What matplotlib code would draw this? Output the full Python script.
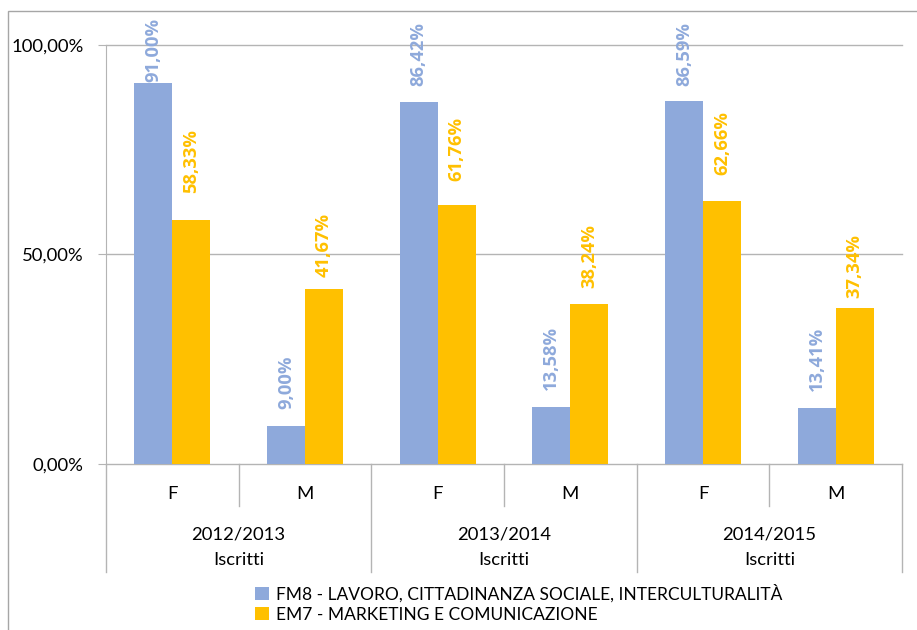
import numpy as np
import matplotlib.pyplot as plt
from matplotlib.lines import Line2D
from matplotlib.transforms import blended_transform_factory

plt.rcParams['font.family'] = ['Lato', 'DejaVu Sans']

# dati
sottocategorie = ['F', 'M', 'F', 'M', 'F', 'M']
anni = ['2012/2013', '2013/2014', '2014/2015']
gruppo = 'Iscritti'
fm8 = [91.00, 9.00, 86.42, 13.58, 86.59, 13.41]
em7 = [58.33, 41.67, 61.76, 38.24, 62.66, 37.34]
serie_nomi = ['FM8 - LAVORO, CITTADINANZA SOCIALE, INTERCULTURALITÀ',
              'EM7 - MARKETING E COMUNICAZIONE']
colori = ['#8EA9DB', '#FFC000']
yticks = [0, 50, 100]
ytick_labels = ['0,00%', '50,00%', '100,00%']
# distanza (px) tra cima della barra e etichetta, come nel grafico originale
gap_fm8 = [1, 17, 16, 17, 15, 17]
gap_em7 = [27, 12, 24, 16, 26, 10]

W, H = 917, 630
fig = plt.figure(figsize=(W / 100, H / 100), dpi=100)
grigio = '#B4B4B4'

# cornice esterna del grafico
fig.add_artist(plt.Rectangle((8 / W, -0.01), 1.02 - 8 / W, 1 - 11 / H + 0.01,
                             transform=fig.transFigure, fill=False,
                             edgecolor='#A6A6A6', linewidth=1.0))

ax = fig.add_axes([106 / W, 1 - 464 / H, (902 - 106) / W, (464 - 45) / H])
x = np.arange(len(sottocategorie))
bw = 0.286
b1 = ax.bar(x - bw / 2, fm8, bw, color=colori[0], label=serie_nomi[0], zorder=3)
b2 = ax.bar(x + bw / 2, em7, bw, color=colori[1], label=serie_nomi[1], zorder=3)

for bars, vals, gaps, c in [(b1, fm8, gap_fm8, colori[0]),
                            (b2, em7, gap_em7, colori[1])]:
    for b, v, g in zip(bars, vals, gaps):
        ax.annotate(('%.2f' % v).replace('.', ',') + '%',
                    (b.get_x() + b.get_width() / 2, v),
                    xytext=(0, g * 0.72), textcoords='offset points',
                    rotation=90, ha='center', va='bottom',
                    color=c, fontsize=13.2, fontweight='bold',
                    family=['Open Sans', 'DejaVu Sans'],
                    annotation_clip=False, zorder=4)

ax.set_xlim(-0.5, len(sottocategorie) - 0.5)
ax.set_ylim(0, 100)
for yv in yticks:
    ax.axhline(yv, color=grigio, linewidth=1.0, clip_on=False, zorder=1)
for s in ['top', 'right', 'bottom']:
    ax.spines[s].set_visible(False)
ax.spines['left'].set_color(grigio)
ax.set_yticks(yticks)
ax.set_yticklabels(ytick_labels, fontsize=13.3)
ax.tick_params(axis='y', length=6, color=grigio, pad=10)
ax.set_xticks([])

# assi multilivello
tr = blended_transform_factory(ax.transData, fig.transFigure)
y0 = 1 - 464 / H
y_sub = 1 - 506 / H
y_grp = 1 - 572 / H
for i, lab in enumerate(sottocategorie):
    ax.text(i, 1 - 494 / H, lab, transform=tr, fontsize=13.3,
            ha='center', va='center')
for i in range(len(sottocategorie) + 1):
    xb = i - 0.5
    yb = y_grp if i % 2 == 0 else y_sub
    fig.add_artist(Line2D([xb, xb], [y0, yb], transform=tr,
                          color=grigio, linewidth=1.0))
for j, a in enumerate(anni):
    ax.text(2 * j + 0.5, 1 - 535 / H, a, transform=tr, fontsize=13.3,
            ha='center', va='center')
    ax.text(2 * j + 0.5, 1 - 560 / H, gruppo, transform=tr, fontsize=13.3,
            ha='center', va='center')

fig.legend(handles=[b1, b2], labels=serie_nomi, loc='upper left',
           bbox_to_anchor=(243 / W, 1 - 572 / H), frameon=False,
           fontsize=12.5, handlelength=0.8, handleheight=0.8,
           handletextpad=0.4, labelspacing=0.25, borderpad=0.2)

fig.savefig('out.png', dpi=100)
